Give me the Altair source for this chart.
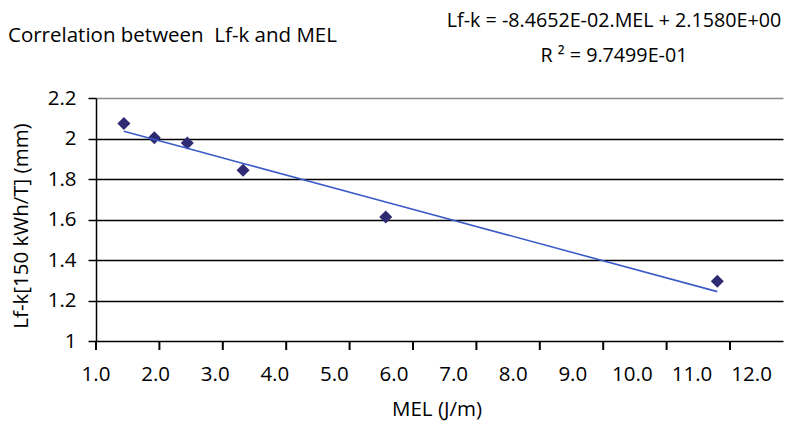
import altair as alt
import pandas as pd

# ---- data ----
mel = [1.44, 1.92, 2.44, 3.32, 5.57, 10.8]
lfk = [2.074, 2.004, 1.978, 1.843, 1.612, 1.295]
slope = -0.084652
intercept = 2.1580

x_ticks = [1, 2, 3, 4, 5, 6, 7, 8, 9, 10, 11]
x_labels = [1.0, 2.0, 3.0, 4.0, 5.0, 6.0, 7.0, 8.0, 9.0, 10.0, 11.0, 12.0]
label_step = 59.6 / 63.4   # the reference's labels drift left of their ticks
y_ticks = [1.0, 1.2, 1.4, 1.6, 1.8, 2.0, 2.2]

NB = "\u00a0"
title_text = "Correlation between" + NB + NB + "Lf-k and MEL"
eq_line1 = "Lf-k = -8.4652E-02.MEL + 2.1580E+00"
eq_line2 = "R ² = 9.7499E-01"
y_title = "Lf-k[150 kWh/T] (mm)"
x_title = "MEL (J/m)"

FONT = "Open Sans"
W, H = 687, 243

df = pd.DataFrame({"MEL": mel, "Lfk": lfk})
lab_df = pd.DataFrame({"v": x_labels})
tick_df = pd.DataFrame({"v": x_ticks})

xs = alt.Scale(domain=[1, 11.836], nice=False, zero=False)
ys = alt.Scale(domain=[1, 2.2], nice=False, zero=False)

base = alt.Chart(df)

points = base.mark_point(shape="diamond", filled=True, size=170,
                         color="#2E2B72", opacity=1).encode(
    x=alt.X("MEL:Q", scale=xs, axis=None),
    y=alt.Y("Lfk:Q", scale=ys,
            axis=alt.Axis(values=y_ticks, format="~g", title=None,
                          labelFont=FONT, labelFontSize=20.5, labelColor="black",
                          labelPadding=12, tickSize=8, tickColor="black",
                          tickWidth=1.5, domainColor="black", domainWidth=1.5,
                          grid=True, gridWidth=1.5,
                          gridColor={"condition": {"test": "datum.value >= 2.15",
                                                   "value": "#8c8c8c"},
                                     "value": "black"})),
)

trend = base.transform_calculate(
    fit=f"{intercept} + ({slope}) * datum.MEL"
).mark_line(color="#3A5BC8", strokeWidth=1.6).encode(
    x=alt.X("MEL:Q", scale=xs, axis=None),
    y=alt.Y("fit:Q", scale=ys),
)

xticks = alt.Chart(tick_df).mark_tick(color="#000000", thickness=2, size=9,
                                      orient="vertical", opacity=1).encode(
    x=alt.X("v:Q", scale=xs, axis=None),
    y=alt.value(H + 4.5),
)

xlab = alt.Chart(lab_df).transform_calculate(
    t="format(datum.v, '.1f')",
    pos=f"1 + (datum.v - 1) * {label_step}",
).mark_text(font=FONT, fontSize=20.5, color="black", baseline="alphabetic",
            align="center").encode(
    x=alt.X("pos:Q", scale=xs, axis=None),
    y=alt.value(283),
    text="t:N",
)

def txt(s, x, y, **kw):
    return alt.Chart(pd.DataFrame({"t": [s]})).mark_text(
        font=FONT, color="black", **kw
    ).encode(x=alt.value(x), y=alt.value(y), text="t:N")

t_title = txt(title_text, -88, -56, fontSize=20.5, align="left", baseline="alphabetic")
t_eq1 = txt(eq_line1, 518, -71.5, fontSize=19.7, align="center", baseline="alphabetic")
t_eq2 = txt(eq_line2, 518, -36.5, fontSize=19.7, align="center", baseline="alphabetic")
t_ytitle = txt(y_title, -74, 128, fontSize=20.5, align="center", baseline="middle", angle=270)
t_xtitle = txt(x_title, 341, 318, fontSize=20.5, align="center", baseline="alphabetic")

chart = alt.layer(points, trend, xticks, xlab, t_title, t_eq1, t_eq2, t_ytitle, t_xtitle).properties(
    width=W, height=H,
    autosize=alt.AutoSizeParams(type="none"),
    padding={"left": 96, "top": 98, "right": 2, "bottom": 86},
    background="white",
).configure_view(stroke=None)

chart.save("out.html", embed_options={"renderer": "svg", "actions": False})
